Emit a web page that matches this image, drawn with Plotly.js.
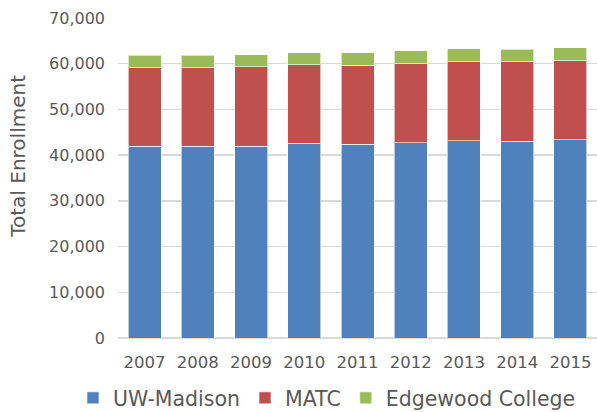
<!DOCTYPE html>
<html>
<head>
<meta charset="utf-8">
<script src="https://cdn.plot.ly/plotly-3.0.1.min.js"></script>
<style>
  html, body { margin: 0; padding: 0; background: #fff; }
  #chart { width: 597px; height: 412px; }
</style>
</head>
<body>
<div id="chart"></div>
<script>
// Enrollment by institution
const years = ['2007', '2008', '2009', '2010', '2011', '2012', '2013', '2014', '2015'];
const uwMadison = [41900, 41900, 42000, 42550, 42350, 42700, 43200, 43050, 43350];
const matc      = [17200, 17200, 17300, 17200, 17350, 17300, 17200, 17350, 17300];
const edgewood  = [2800, 2800, 2650, 2700, 2700, 2850, 2850, 2800, 2850];
const yTicks = [0, 10000, 20000, 30000, 40000, 50000, 60000, 70000];

const FONT = 'DejaVu Sans, Liberation Sans, Arial, sans-serif';
const GREY = '#595959';

const series = [
  { name: 'UW-Madison', y: uwMadison, color: '#4F81BD' },
  { name: 'MATC', y: matc, color: '#C0504D' },
  { name: 'Edgewood College', y: edgewood, color: '#9BBB59' },
];

const traces = series.map(s => ({
  type: 'bar',
  x: years,
  y: s.y,
  name: s.name,
  marker: { color: s.color, line: { color: 'rgba(255,255,255,0.6)', width: 1 } },
  hovertemplate: '%{x}: %{y:,}<extra>' + s.name + '</extra>',
}));

const layout = {
  width: 597,
  height: 412,
  // legend sits in the bottom margin; don't let it shrink the plot
  margin: { l: 118, r: 0, t: 18, b: 74, autoexpand: false },
  paper_bgcolor: '#fff',
  plot_bgcolor: '#fff',
  barmode: 'stack',
  bargap: 0.38,
  font: { family: FONT, color: GREY },
  xaxis: {
    type: 'category',
    showgrid: false,
    showline: false,
    ticks: '',
    ticklabelstandoff: 12,
    tickfont: { size: 16.5, color: GREY },
  },
  yaxis: {
    range: [0, 70000],
    tickvals: yTicks,
    tickformat: ',d',
    showgrid: true,
    gridcolor: '#D9D9D9',
    gridwidth: 1.5,
    zeroline: true,
    zerolinecolor: '#D9D9D9',
    zerolinewidth: 1.5,
    showline: false,
    ticks: '',
    ticklabelstandoff: 12,
    tickfont: { size: 16, color: GREY },
    title: { text: '' },
  },
  annotations: [
    { text: 'Total Enrollment', textangle: -90, showarrow: false,
      xref: 'paper', yref: 'paper', x: -0.209, y: 0.569,
      xanchor: 'center', yanchor: 'middle',
      font: { size: 20, color: GREY, family: FONT } },
  ],
  legend: {
    orientation: 'h',
    traceorder: 'normal',
    x: -0.094, xanchor: 'left',
    y: -0.1875, yanchor: 'middle',
    font: { size: 20.5, color: GREY, family: FONT },
    itemwidth: 30,
    bgcolor: 'rgba(0,0,0,0)',
  },
  showlegend: true,
};

Plotly.newPlot('chart', traces, layout, { displayModeBar: false, staticPlot: true });
</script>
</body>
</html>
